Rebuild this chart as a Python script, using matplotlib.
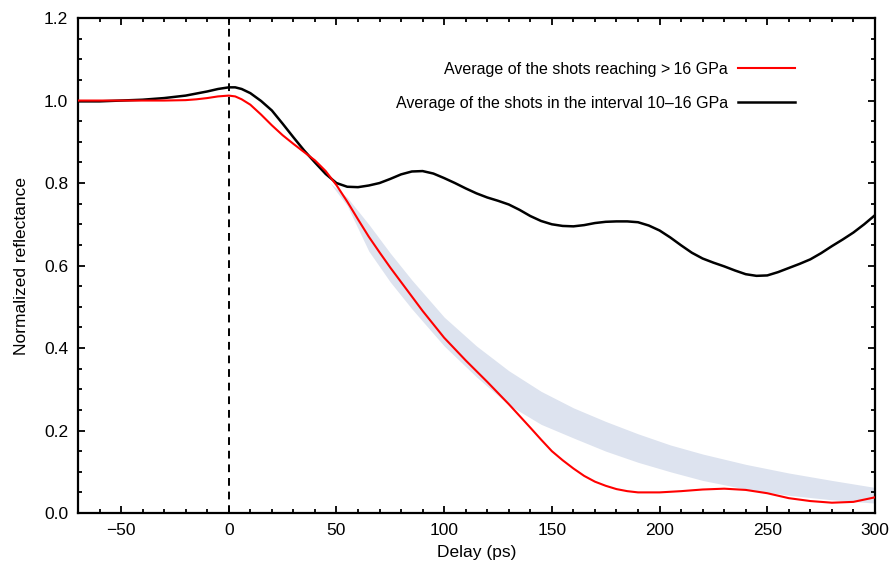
import numpy as np
import matplotlib
matplotlib.use('Agg')
from matplotlib import pyplot as plt
from matplotlib.ticker import MultipleLocator, FormatStrFormatter

plt.rcParams['font.family'] = ['Liberation Sans', 'DejaVu Sans']

# shots reaching >16 GPa (red)
red_delay = [-70, -60, -50, -40, -30, -20, -15, -10, -5, 0, 3, 6, 10, 15, 20, 25, 30, 35, 40,
             45, 50, 55, 60, 65, 70, 75, 80, 90, 100, 110, 120, 130, 140, 145, 150, 155,
             160, 165, 170, 175, 180, 185, 190, 200, 210, 220, 230, 240, 250, 260, 270,
             280, 290, 300]
red_refl = [1.0, 1.0, 1.0, 1.0, 1.0, 1.001, 1.003, 1.006, 1.010, 1.012, 1.010, 1.003, 0.99,
            0.966, 0.94, 0.916, 0.895, 0.875, 0.855, 0.829, 0.795, 0.755, 0.712, 0.67, 0.632,
            0.595, 0.56, 0.49, 0.425, 0.37, 0.318, 0.264, 0.207, 0.178, 0.15, 0.128, 0.108,
            0.09, 0.076, 0.066, 0.058, 0.053, 0.05, 0.05, 0.053, 0.057, 0.059, 0.056, 0.048,
            0.036, 0.029, 0.025, 0.027, 0.038]

# shots in the interval 10-16 GPa (black)
black_delay = [-70, -60, -50, -40, -30, -20, -10, -5, 0, 3, 6, 10, 15, 20, 25, 30, 35, 40,
               45, 50, 55, 60, 65, 70, 75, 80, 85, 90, 95, 100, 105, 110, 115, 120, 125,
               130, 135, 140, 145, 150, 155, 160, 165, 170, 175, 180, 185, 190, 195, 200,
               205, 210, 215, 220, 225, 230, 235, 240, 245, 250, 255, 260, 265, 270, 275,
               280, 285, 290, 295, 300]
black_refl = [0.998, 0.998, 1.0, 1.002, 1.006, 1.012, 1.022, 1.028, 1.032, 1.032, 1.028,
              1.018, 0.999, 0.976, 0.944, 0.911, 0.879, 0.85, 0.822, 0.8, 0.791, 0.79,
              0.794, 0.80, 0.81, 0.821, 0.828, 0.829, 0.823, 0.812, 0.80, 0.787, 0.775,
              0.765, 0.757, 0.748, 0.735, 0.72, 0.708, 0.70, 0.696, 0.695, 0.698, 0.703,
              0.706, 0.707, 0.707, 0.705, 0.697, 0.685, 0.668, 0.649, 0.631, 0.617, 0.607,
              0.598, 0.588, 0.579, 0.575, 0.576, 0.584, 0.594, 0.604, 0.615, 0.63, 0.647,
              0.663, 0.68, 0.70, 0.722]

# shaded band
band_delay = [47, 55, 65, 75, 85, 100, 115, 130, 145, 160, 175, 190, 205, 220, 240, 260, 280, 300]
band_upper = [0.80, 0.765, 0.70, 0.63, 0.565, 0.475, 0.405, 0.345, 0.295, 0.255, 0.222, 0.192,
              0.165, 0.143, 0.118, 0.097, 0.079, 0.062]
band_lower = [0.80, 0.745, 0.635, 0.56, 0.495, 0.405, 0.33, 0.262, 0.215, 0.182, 0.15, 0.123,
              0.10, 0.079, 0.058, 0.043, 0.032, 0.024]

fig = plt.figure(figsize=(8.89, 5.64), dpi=100)
ax = fig.add_axes([0.0877, 0.0904, 0.8965, 0.8776])

ax.fill_between(band_delay, band_lower, band_upper, color='#dde3ef', linewidth=0, zorder=1)
ax.axvline(0, color='black', linestyle=(0, (4, 3)), linewidth=1.4, zorder=2)
ax.plot(black_delay, black_refl, color='black', linewidth=1.8, zorder=3,
        solid_joinstyle='round', label='Average of the shots in the interval 10\u201316 GPa')
ax.plot(red_delay, red_refl, color='#ff0000', linewidth=1.5, zorder=4,
        solid_joinstyle='round', label='Average of the shots reaching >\u200916 GPa')

ax.set_xlim(-70, 300)
ax.set_ylim(0, 1.2)
ax.xaxis.set_major_locator(MultipleLocator(50))
ax.xaxis.set_minor_locator(MultipleLocator(10))
ax.yaxis.set_major_locator(MultipleLocator(0.2))
ax.yaxis.set_minor_locator(MultipleLocator(0.05))
ax.yaxis.set_major_formatter(FormatStrFormatter('%.1f'))
ax.tick_params(which='both', direction='in', top=True, right=True, labelsize=12.5, width=1.3)
ax.tick_params(which='major', length=5, pad=7)
ax.tick_params(which='minor', length=3)
for s in ax.spines.values():
    s.set_linewidth(1.6)

ax.set_xlabel('Delay (ps)', fontsize=12.5, labelpad=5)
ax.set_ylabel('Normalized reflectance', fontsize=12.5, labelpad=11)

h, l = ax.get_legend_handles_labels()
ax.legend(h[::-1], l[::-1], loc='upper right', bbox_to_anchor=(0.9, 0.912), frameon=False,
          markerfirst=False, alignment='right', fontsize=11.5, handlelength=3.6,
          handletextpad=0.6, labelspacing=1.2, borderpad=0, borderaxespad=0)

plt.savefig('out.png', dpi=100)
